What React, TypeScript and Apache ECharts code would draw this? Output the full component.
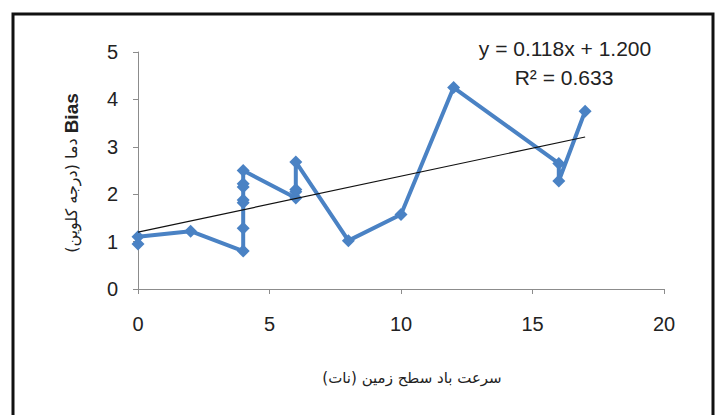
import React, { useEffect, useRef } from "react";
import * as echarts from "echarts";

// Wind speed (knots) and temperature bias (K), in the order they are connected
const windSpeed = [0, 0, 2, 4, 4, 4, 4, 4, 4, 4, 6, 6, 6, 6, 8, 10, 12, 16, 16, 17];
const biasValues = [0.95, 1.1, 1.22, 0.8, 1.28, 1.82, 1.88, 2.15, 2.22, 2.5, 1.92, 2.05, 2.1, 2.68, 1.02, 1.57, 4.25, 2.65, 2.28, 3.75];

// Linear trendline as reported on the chart
const trendSlope = 0.118;
const trendIntercept = 1.2;
const trendRange = [0, 17];
const equationLabel = "y = 0.118x + 1.200";
const r2Label = "R² = 0.633";

const xTicks = [0, 5, 10, 15, 20];
const yTicks = [0, 1, 2, 3, 4, 5];

const xTitle = "\u202Bسرعت باد سطح زمین (نات)\u202C";
const yTitlePersian = "\u202Bدما (درجه کلوین)\u202C ";
const yTitleLatin = "Bias";

export default function App() {
  const ref = useRef<HTMLDivElement>(null);
  useEffect(() => {
    if (!ref.current) return;
    const chart = echarts.init(ref.current, null, { renderer: "svg" });
    const data = windSpeed.map((x, i) => [x, biasValues[i]]);
    const trend = trendRange.map((x) => [x, trendSlope * x + trendIntercept]);
    const font = "'Liberation Sans', Arial, sans-serif";
    chart.setOption({
      animation: false,
      backgroundColor: "#ffffff",
      grid: { left: 138, right: 60, top: 52, bottom: 126, containLabel: false },
      xAxis: {
        type: "value",
        min: xTicks[0],
        max: xTicks[xTicks.length - 1],
        interval: 5,
        axisLine: { show: true, lineStyle: { color: "#8c8c8c", width: 1 } },
        axisTick: { show: true, length: 5, lineStyle: { color: "#8c8c8c" } },
        splitLine: { show: false },
        axisLabel: { margin: 25, fontSize: 20, color: "#222", fontFamily: font },
      },
      yAxis: {
        type: "value",
        min: yTicks[0],
        max: yTicks[yTicks.length - 1],
        interval: 1,
        axisLine: { show: true, lineStyle: { color: "#8c8c8c", width: 1 } },
        axisTick: { show: true, length: 5, lineStyle: { color: "#8c8c8c" } },
        splitLine: { show: false },
        axisLabel: { margin: 20, fontSize: 20, color: "#222", fontFamily: font },
      },
      series: [
        {
          type: "line",
          data,
          symbol: "diamond",
          symbolSize: 13,
          lineStyle: { color: "#4a82c4", width: 4 },
          itemStyle: { color: "#4a82c4" },
          z: 3,
        },
        {
          type: "line",
          data: trend,
          symbol: "none",
          lineStyle: { color: "#111", width: 1.2 },
          z: 4,
        },
      ],
      graphic: [
        {
          type: "rect",
          shape: { x: 13, y: 14, width: 700, height: 460 },
          style: { fill: "none", stroke: "#111", lineWidth: 3 },
          silent: true,
        },
        {
          type: "text",
          x: 565,
          y: 48,
          style: {
            text: equationLabel,
            fontSize: 21,
            fontFamily: font,
            fill: "#222",
            textAlign: "center",
            textVerticalAlign: "middle",
          },
        },
        {
          type: "text",
          x: 564,
          y: 77,
          style: {
            text: r2Label,
            fontSize: 21,
            fontFamily: font,
            fill: "#222",
            textAlign: "center",
            textVerticalAlign: "middle",
          },
        },
        {
          type: "text",
          x: 412,
          y: 378,
          style: {
            text: xTitle,
            fontSize: 15,
            fontFamily: "'DejaVu Sans', 'Noto Sans', sans-serif",
            fill: "#222",
            textAlign: "center",
            textVerticalAlign: "middle",
          },
        },
        {
          type: "text",
          x: 71,
          y: 173,
          rotation: Math.PI / 2,
          style: {
            text: "{p|" + yTitlePersian + "}{b|" + yTitleLatin + "}",
            textAlign: "center",
            textVerticalAlign: "middle",
            rich: {
              p: { fontSize: 16, fontFamily: "'DejaVu Sans', 'Noto Sans', sans-serif", fill: "#222" },
              b: { fontSize: 19, fontWeight: "bold", fontFamily: font, fill: "#222" },
            },
          },
        },
      ],
    });
    return () => chart.dispose();
  }, []);
  return (
    <div
      ref={ref}
      style={{ position: "absolute", left: 0, top: 0, width: 724, height: 415 }}
    />
  );
}
